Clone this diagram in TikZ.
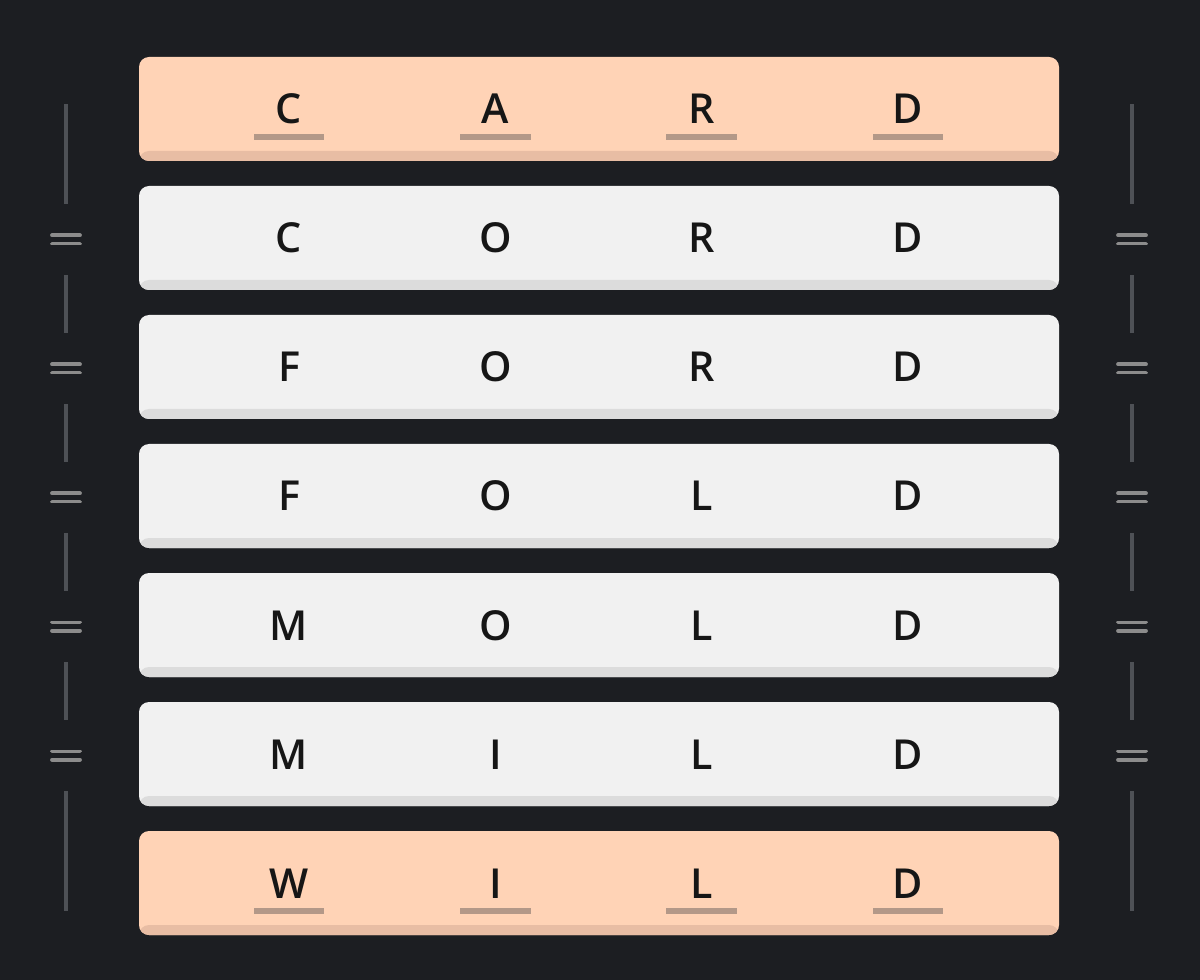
\documentclass[tikz,border=0pt]{standalone}
\usepackage{fontspec}
\setmainfont{Open Sans}
\IfFontExistsTF{Open Sans SemiBold}{\newfontfamily\lettfont{Open Sans SemiBold}}{%
  \IfFontExistsTF{Open Sans Semibold}{\newfontfamily\lettfont{Open Sans Semibold}}{\newfontfamily\lettfont{Open Sans}[FakeBold=1.5]}}
\usetikzlibrary{calc}
\definecolor{bg}{HTML}{1C1E22}
\definecolor{peach}{HTML}{FFD3B6}
\definecolor{peachdk}{HTML}{E8BDA4}
\definecolor{light}{HTML}{F1F1F1}
\definecolor{lightdk}{HTML}{DCDCDC}
\definecolor{ink}{HTML}{161616}
\definecolor{uline}{HTML}{B39888}
\definecolor{rail}{HTML}{4E5156}
\definecolor{eqc}{HTML}{8C8C8C}
\tikzset{
  rowbox/.style={rectangle, rounded corners=7.5pt, minimum width=690pt, minimum height=78pt, inner sep=0pt,
    fill=#1, path picture={\fill[#1dk] (path picture bounding box.south west) rectangle ([yshift=7.5pt]path picture bounding box.south east);}},
  letter/.style={anchor=base, inner sep=0pt, text=ink, font=\fontsize{31}{31}\lettfont},
  ulbar/.style={rectangle, fill=uline, minimum width=53pt, minimum height=4.5pt, inner sep=0pt},
  eqsign/.style={rectangle, minimum width=26pt, minimum height=53pt, inner sep=0pt,
    path picture={\draw[eqc, line width=2.8pt, line cap=round] ([xshift=-10.5pt,yshift=3.1pt]path picture bounding box.center) -- ++(21pt,0)
      ([xshift=-10.5pt,yshift=-3.1pt]path picture bounding box.center) -- ++(21pt,0);}},
  railline/.style={draw=rail, line width=2.4pt}
}
\begin{document}
\begin{tikzpicture}[x=0.75pt, y=-0.75pt]
\fill[bg] (0,0) rectangle (1200,980);
\useasboundingbox (0,0) rectangle (1200,980);
% rows
\foreach \w [count=\i] in {CARD,CORD,FORD,FOLD,MOLD,MILD,WILD}{
  \pgfmathsetmacro{\cy}{109+129*(\i-1)}
  \ifnum\i=1 \def\rc{peach}\else\ifnum\i=7 \def\rc{peach}\else\def\rc{light}\fi\fi
  \node[rowbox=\rc] (r\i) at (599,\cy) {};
}
% letters
\foreach \w [count=\i] in {{C,A,R,D},{C,O,R,D},{F,O,R,D},{F,O,L,D},{M,O,L,D},{M,I,L,D},{W,I,L,D}}{
  \pgfmathsetmacro{\by}{124+129*(\i-1)}
  \foreach \ch [count=\j] in \w {
    \pgfmathsetmacro{\lx}{289+206.33*(\j-1)}
    \node[letter] (r\i c\j) at (\lx,\by) {\ch};
  }
}
% underlines on highlighted rows
\foreach \i in {1,7}{
  \foreach \j in {1,...,4}{
    \pgfmathsetmacro{\lx}{289+206.33*(\j-1)}
    \pgfmathsetmacro{\uy}{137+129*(\i-1)}
    \node[ulbar] (u\i\j) at (\lx,\uy) {};
  }
}
% rails
\foreach \side/\x in {L/66,R/1132}{
  \coordinate (top\side) at (\x,104);
  \coordinate (bot\side) at (\x,911);
  \foreach \k in {1,...,5}{
    \pgfmathsetmacro{\ey}{239.5+129*(\k-1)}
    \node[eqsign] (eq\side\k) at (\x,\ey) {};
  }
  \draw[railline] (top\side) -- (eq\side1.north);
  \draw[railline] (eq\side1.south) -- (eq\side2.north);
  \draw[railline] (eq\side2.south) -- (eq\side3.north);
  \draw[railline] (eq\side3.south) -- (eq\side4.north);
  \draw[railline] (eq\side4.south) -- (eq\side5.north);
  \draw[railline] (eq\side5.south) -- (bot\side);
}
\end{tikzpicture}
\end{document}
